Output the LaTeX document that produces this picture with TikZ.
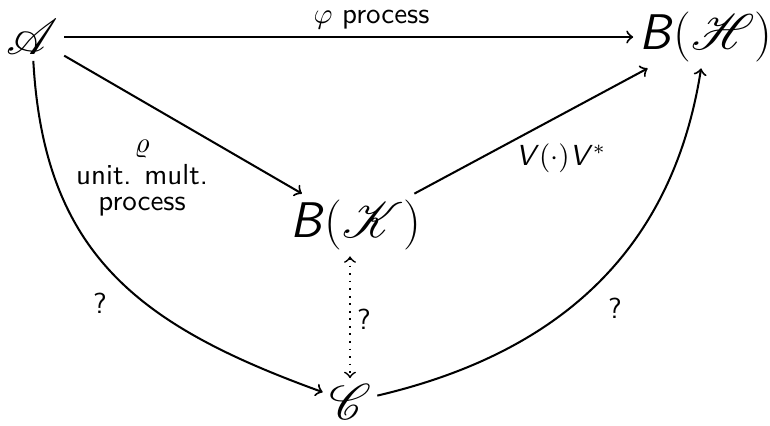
\documentclass[tikz,border=0pt]{standalone}
\usepackage{mathrsfs}
\newcommand{\sfB}{\textsf{\textit{B}}}
\newcommand{\sfV}{\textsf{\textit{V}}}
\tikzset{
  big/.style={font=\LARGE, inner sep=2pt},
  lbl/.style={font=\sffamily, inner sep=1pt},
  conn/.style={line width=0.7pt, ->},
}
\begin{document}
\begin{tikzpicture}[x=0.345pt, y=-0.345pt]
\useasboundingbox (0,0) rectangle (770,425);
\node[big] (A) at (32,37) {$\mathscr{A}$};
\node[big] (BH) at (706,37) {\sfB$(\mathscr{H})$};
\node[big] (BK) at (356,225) {\sfB$(\mathscr{K})$};
\node[big] (C) at (350,402) {$\mathscr{C}$};

\draw[conn] (A) -- (BH) node[lbl, pos=0.54, above=1.5pt] {$\varphi$ process};
\draw[conn] (A) -- (BK);
\draw[conn] (BK) -- (BH);
\draw[conn] (A) .. controls (44,255) and (140,326) .. (C);
\draw[conn] (C) .. controls (555,354) and (672,254) .. (BH);
\draw[<->, dotted, line width=0.6pt] (C.north |- BK.south) -- (C);

\node[lbl, align=center, font=\sffamily\fontsize{10}{9}\selectfont] (rho) at (142,178) {$\varrho$\\[2pt]unit. mult.\\process};
\node[lbl] (vv) at (561,158) {\sfV$(\cdot)$\sfV$^*$};
\node[lbl] (q1) at (100,303) {?};
\node[lbl] (q2) at (615,308) {?};
\node[lbl] (q3) at (364,319) {?};
\end{tikzpicture}
\end{document}
